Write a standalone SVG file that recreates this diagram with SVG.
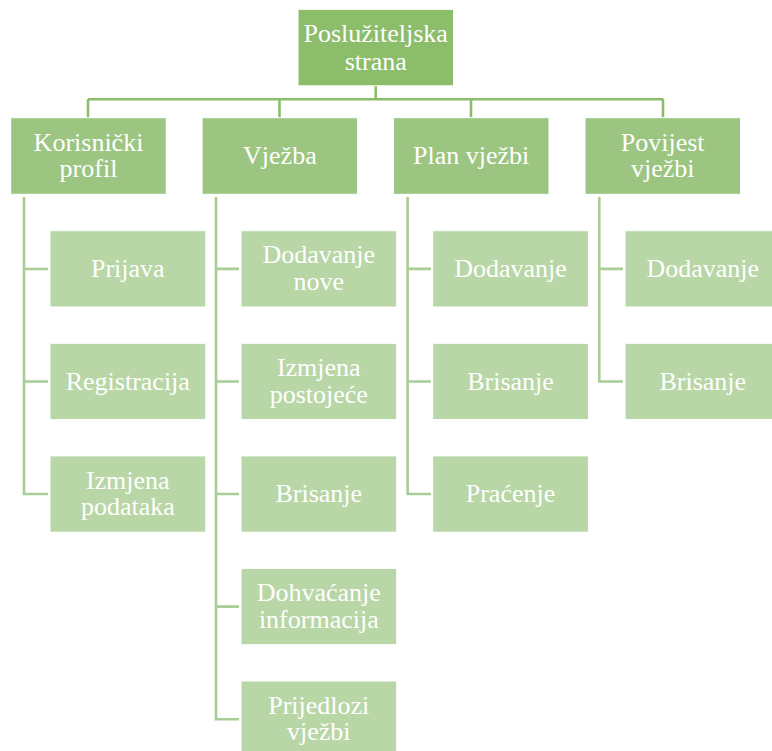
<svg xmlns="http://www.w3.org/2000/svg" width="772" height="751" viewBox="0 0 772 751">
<style>
.root{fill:#8cbd6b;stroke:#ffffff;stroke-width:1}
.l1{fill:#9cc581;stroke:#ffffff;stroke-width:1}
.l2{fill:#b8d6a6;stroke:#ffffff;stroke-width:1}
.t{font-family:"Liberation Serif","Times New Roman",serif;font-size:26px;fill:#ffffff;text-anchor:middle}
.ct{fill:none;stroke:#8cbd6b;stroke-width:2.6}
.cl{fill:none;stroke:#a9cd96;stroke-width:2.6}
</style>
<rect width="772" height="751" fill="#ffffff"/>
<g id="connectors">
<path class="ct" d="M375.7,86 V99.3 M88,99.3 H663.3 M88,99.3 V117.7 M279.5,99.3 V117.7 M471,99.3 V117.7 M663,99.3 V117.7"/>
<path class="cl" d="M24,197 V494 H48 M24,269 H48 M24,381.5 H48"/>
<path class="cl" d="M216,197 V719.2 H239 M216,268.9 H239 M216,381.5 H239 M216,494 H239 M216,606.6 H239"/>
<path class="cl" d="M407.6,197 V494 H431 M407.6,268.9 H431 M407.6,381.5 H431"/>
<path class="cl" d="M599.3,197 V381.5 H623 M599.3,268.9 H623"/>
</g>
<g id="root"><rect class="root" x="298" y="9.3" width="155.5" height="76.5"/><text class="t" x="375.7" y="42">Poslužiteljska</text><text class="t" x="375.7" y="69.5">strana</text></g>
<g id="korisnicki"><rect class="l1" x="10.7" y="117.7" width="155.5" height="76.6"/><text class="t" x="88.5" y="150.5">Korisnički</text><text class="t" x="88.5" y="177">profil</text></g>
<g id="vjezba"><rect class="l1" x="202.1" y="117.7" width="155.5" height="76.6"/><text class="t" x="279.9" y="164">Vježba</text></g>
<g id="plan"><rect class="l1" x="393.5" y="117.7" width="155.5" height="76.6"/><text class="t" x="471.2" y="164">Plan vježbi</text></g>
<g id="povijest"><rect class="l1" x="585" y="117.7" width="155.5" height="76.6"/><text class="t" x="662.7" y="150.5">Povijest</text><text class="t" x="662.7" y="177">vježbi</text></g>
<g id="prijava"><rect class="l2" x="50" y="230.7" width="155.7" height="76.3"/><text class="t" x="127.8" y="277">Prijava</text></g>
<g id="registracija"><rect class="l2" x="50" y="343.3" width="155.7" height="76.3"/><text class="t" x="127.8" y="389.5">Registracija</text></g>
<g id="izmjena-podataka"><rect class="l2" x="50" y="455.9" width="155.7" height="76.3"/><text class="t" x="127.8" y="488.5">Izmjena</text><text class="t" x="127.8" y="515">podataka</text></g>
<g id="dodavanje-nove"><rect class="l2" x="241" y="230.7" width="155.7" height="76.3"/><text class="t" x="318.8" y="263.4">Dodavanje</text><text class="t" x="318.8" y="290">nove</text></g>
<g id="izmjena-postojece"><rect class="l2" x="241" y="343.3" width="155.7" height="76.3"/><text class="t" x="318.8" y="376">Izmjena</text><text class="t" x="318.8" y="402.5">postojeće</text></g>
<g id="brisanje-v"><rect class="l2" x="241" y="455.9" width="155.7" height="76.3"/><text class="t" x="318.8" y="502">Brisanje</text></g>
<g id="dohvacanje"><rect class="l2" x="241" y="568.4" width="155.7" height="76.3"/><text class="t" x="318.8" y="601">Dohvaćanje</text><text class="t" x="318.8" y="627.5">informacija</text></g>
<g id="prijedlozi"><rect class="l2" x="241" y="681" width="155.7" height="76.3"/><text class="t" x="318.8" y="713.5">Prijedlozi</text><text class="t" x="318.8" y="740">vježbi</text></g>
<g id="dodavanje-p"><rect class="l2" x="432.7" y="230.7" width="155.7" height="76.3"/><text class="t" x="510.5" y="277">Dodavanje</text></g>
<g id="brisanje-p"><rect class="l2" x="432.7" y="343.3" width="155.7" height="76.3"/><text class="t" x="510.5" y="389.5">Brisanje</text></g>
<g id="pracenje"><rect class="l2" x="432.7" y="455.9" width="155.7" height="76.3"/><text class="t" x="510.5" y="502">Praćenje</text></g>
<g id="dodavanje-h"><rect class="l2" x="625" y="230.7" width="155.7" height="76.3"/><text class="t" x="702.8" y="277">Dodavanje</text></g>
<g id="brisanje-h"><rect class="l2" x="625" y="343.3" width="155.7" height="76.3"/><text class="t" x="702.8" y="389.5">Brisanje</text></g>
</svg>
